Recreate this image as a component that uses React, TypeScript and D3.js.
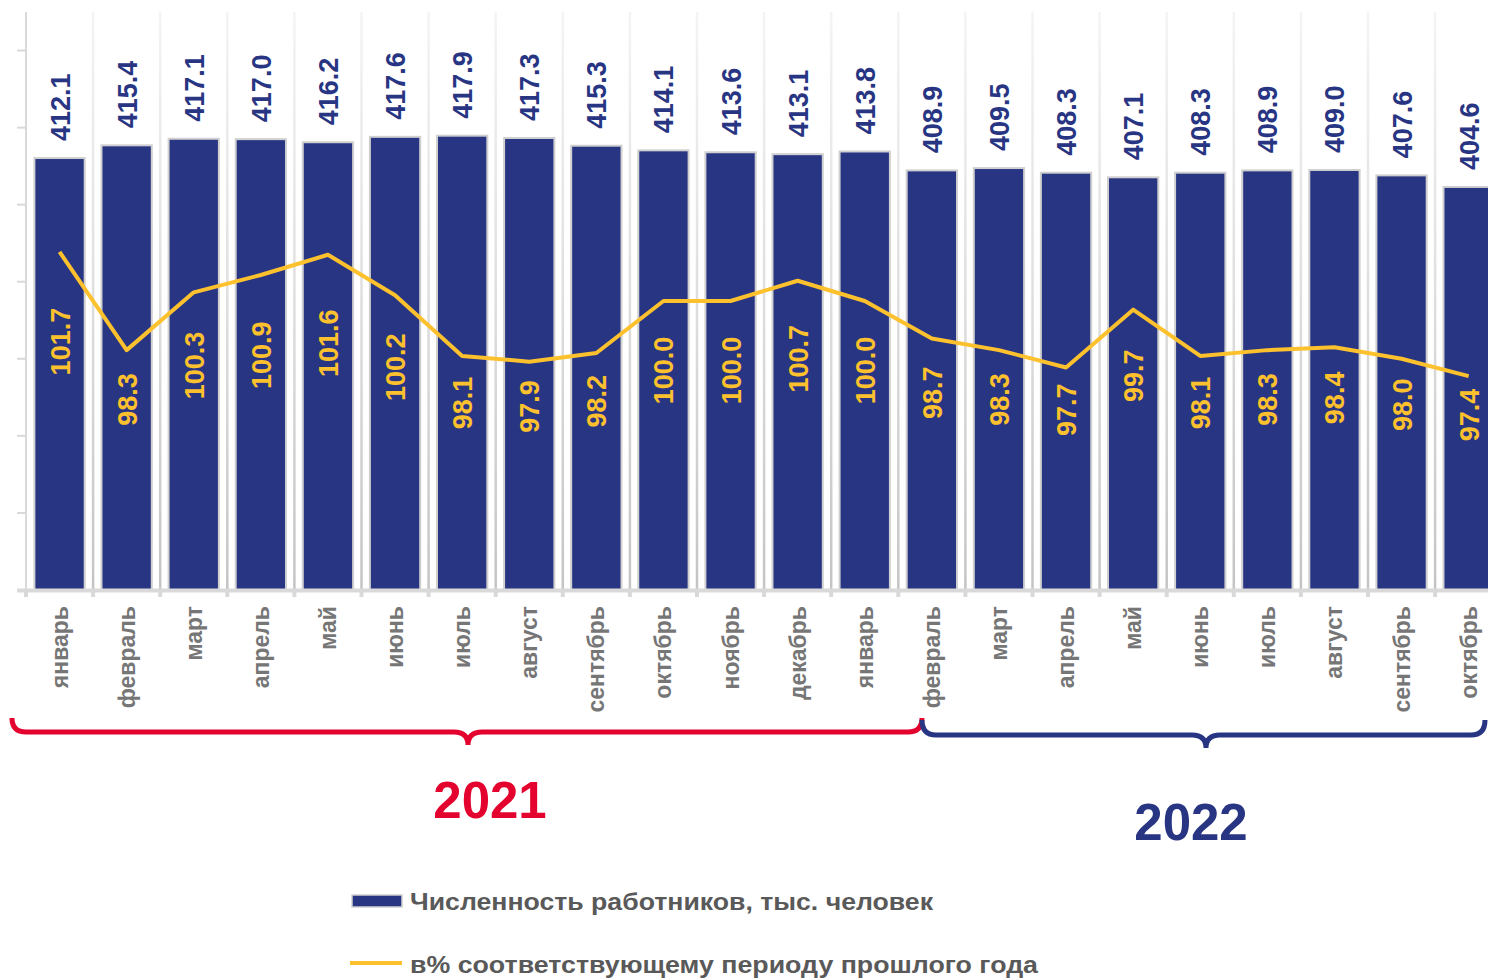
import React from "react";
import * as d3 from "d3";

const months = ["январь","февраль","март","апрель","май","июнь","июль","август","сентябрь","октябрь","ноябрь","декабрь","январь","февраль","март","апрель","май","июнь","июль","август","сентябрь","октябрь"];
const workers = [412.1,415.4,417.1,417.0,416.2,417.6,417.9,417.3,415.3,414.1,413.6,413.1,413.8,408.9,409.5,408.3,407.1,408.3,408.9,409.0,407.6,404.6];
const pct = [101.7,98.3,100.3,100.9,101.6,100.2,98.1,97.9,98.2,100.0,100.0,100.7,100.0,98.7,98.3,97.7,99.7,98.1,98.3,98.4,98.0,97.4];
const leftTicks = [300,320,340,360,380,400,420,440];
const yearGroups = [
  { label: "2021", from: 0, to: 13, color: "#E4032E" },
  { label: "2022", from: 13, to: 22, color: "#283583" },
];
const legendItems = ["Численность работников, тыс. человек", "в% соответствующему периоду прошлого года"];

const W = 1488, H = 978;
const NAVY = "#283583";
const YELLOW = "#FDC12E";
const FONT = "'Liberation Sans', Arial, sans-serif";

export default function App() {
  const left = 26, step = 67.1;
  const x = d3.scaleBand<number>().domain(months.map((_, i) => i)).range([left, left + step * months.length]).padding(0);
  const top = 12, bottom = 590;
  const yL = d3.scaleLinear().domain([300, 450]).range([bottom, top]);
  const yR = d3.scaleLinear().domain([90, 110]).range([bottom, top]);
  const bw = x.bandwidth() * 0.75;
  const cx = (i: number) => (x(i) as number) + x.bandwidth() / 2;
  const line = d3.line<number>().x((_, i) => cx(i)).y((d) => yR(d));
  const boundaries = d3.range(months.length + 1).map((i) => left + i * x.step());

  const brace = (x0: number, x1: number, yTop: number, yLine: number, xc: number, yCusp: number, r: number) =>
    `M${x0},${yTop} Q${x0},${yLine} ${x0 + r},${yLine} L${xc - r},${yLine} Q${xc},${yLine} ${xc},${yCusp} Q${xc},${yLine} ${xc + r},${yLine} L${x1 - r},${yLine} Q${x1},${yLine} ${x1},${yTop}`;

  const braceParams = [
    { yTop: 718, yLine: 732, yCusp: 745, x0: 12, x1: 922, xc: 468, tx: 490, ty: 818 },
    { yTop: 720, yLine: 735, yCusp: 748, x0: 922, x1: 1485, xc: 1206, tx: 1191, ty: 840 },
  ];

  return (
    <svg width={W} height={H} style={{ position: "absolute", left: 0, top: 0, background: "#fff" }} fontFamily={FONT}>
      <defs>
        <linearGradient id="gridGrad" gradientUnits="userSpaceOnUse" x1="0" y1={top} x2="0" y2={bottom}>
          <stop offset="0" stopColor="#f4f4f4" />
          <stop offset="0.5" stopColor="#dedede" />
          <stop offset="1" stopColor="#c4c4c4" />
        </linearGradient>
      </defs>
      {boundaries.slice(1).map((bx, i) => (
        <line key={"g" + i} x1={bx} x2={bx} y1={top} y2={bottom} stroke="url(#gridGrad)" strokeWidth={2.5} />
      ))}
      <line x1={left} x2={left} y1={top} y2={bottom} stroke="#d9d9d9" strokeWidth={2} />
      {leftTicks.map((t) => (
        <line key={"t" + t} x1={17} x2={left} y1={yL(t)} y2={yL(t)} stroke="#d9d9d9" strokeWidth={2} />
      ))}
      {workers.map((v, i) => (
        <rect key={"b" + i} x={cx(i) - bw / 2} y={yL(v)} width={bw} height={bottom - yL(v)} fill={NAVY} stroke="#d0d0d0" strokeWidth={2} />
      ))}
      <line x1={17} x2={W} y1={590.5} y2={590.5} stroke="#d9d9d9" strokeWidth={4} />
      {boundaries.map((bx, i) => (
        <rect key={"xt" + i} x={bx - 2} y={590} width={4} height={7} fill="#d9d9d9" />
      ))}
      {workers.map((v, i) => (
        <text key={"bl" + i} transform={`translate(${cx(i) + 10},${yL(v) - 17}) rotate(-90)`} fontSize={27} fontWeight="bold" fill={NAVY}>
          {v.toFixed(1)}
        </text>
      ))}
      <path d={line(pct) || ""} fill="none" stroke={YELLOW} strokeWidth={4} strokeLinejoin="round" />
      {pct.map((v, i) => {
        const cy = 0.59 * yR(v) + 193;
        return (
          <text key={"pl" + i} transform={`translate(${cx(i) + 10},${cy}) rotate(-90)`} textAnchor="middle" fontSize={27} fontWeight="bold" fill={YELLOW}>
            {v.toFixed(1)}
          </text>
        );
      })}
      {months.map((m, i) => (
        <text key={"m" + i} transform={`translate(${cx(i) + 8},${606}) rotate(-90)`} textAnchor="end" fontSize={23} fontWeight="bold" fill="#767676">
          {m}
        </text>
      ))}
      {yearGroups.map((g, k) => {
        const p = braceParams[k];
        return (
          <g key={"y" + k}>
            <path d={brace(p.x0, p.x1, p.yTop, p.yLine, p.xc, p.yCusp, 14)} fill="none" stroke={g.color} strokeWidth={5} strokeLinecap="butt" />
            <text x={p.tx} y={p.ty} textAnchor="middle" fontSize={51} fontWeight="bold" fill={g.color}>{g.label}</text>
          </g>
        );
      })}
      <rect x={352} y={895} width={50} height={12} fill={NAVY} stroke="#d0d0d0" strokeWidth={1.5} />
      <text x={410} y={910} fontSize={24} fontWeight="bold" fill="#595959" textLength={523} lengthAdjust="spacingAndGlyphs">{legendItems[0]}</text>
      <line x1={350} x2={402} y1={963} y2={963} stroke={YELLOW} strokeWidth={4} />
      <text x={410} y={973} fontSize={24} fontWeight="bold" fill="#595959" textLength={628} lengthAdjust="spacingAndGlyphs">{legendItems[1]}</text>
    </svg>
  );
}
